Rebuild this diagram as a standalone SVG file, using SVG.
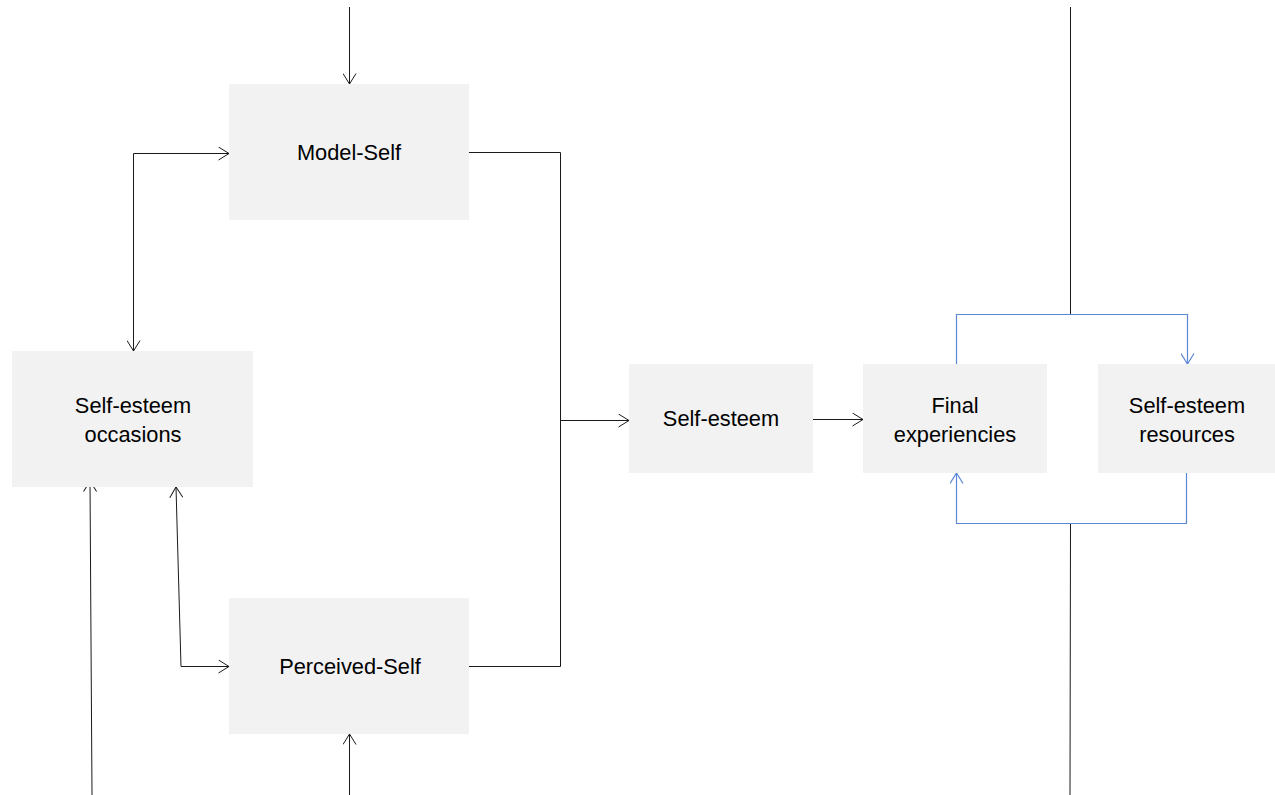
<svg xmlns="http://www.w3.org/2000/svg" width="1275" height="795" viewBox="0 0 1275 795">
<style>
.box{fill:#f2f2f2}
.t{font-family:"Liberation Sans",Arial,sans-serif;font-size:21.8px;fill:#000;text-anchor:middle}
.k{fill:none;stroke:#1a1a1a;stroke-width:1}
.b{fill:none;stroke:#5b87d6;stroke-width:1.2}
</style>
<defs>
<marker id="ak" viewBox="0 0 12 14" refX="11" refY="7" markerWidth="12" markerHeight="14" markerUnits="userSpaceOnUse" orient="auto-start-reverse">
<path d="M0.5,0.5 L11,7 L0.5,13.5" fill="none" stroke="#1a1a1a" stroke-width="1"/>
</marker>
<marker id="ab" viewBox="0 0 12 14" refX="11" refY="7" markerWidth="12" markerHeight="14" markerUnits="userSpaceOnUse" orient="auto-start-reverse">
<path d="M0.5,0.5 L11,7 L0.5,13.5" fill="none" stroke="#5b87d6" stroke-width="1.2"/>
</marker>
</defs>
<g id="connectors">
<line class="k" x1="349.5" y1="7" x2="349.5" y2="84" marker-end="url(#ak)"/>
<polyline class="k" points="229,153.5 133.5,153.5 133.5,351" marker-start="url(#ak)" marker-end="url(#ak)"/>
<polyline class="k" points="176,487 181,666.5 229,666.5" marker-start="url(#ak)" marker-end="url(#ak)"/>
<line class="k" x1="92" y1="795" x2="90" y2="481" marker-end="url(#ak)"/>
<line class="k" x1="349.5" y1="795" x2="349.5" y2="734" marker-end="url(#ak)"/>
<polyline class="k" points="469,152.5 560.5,152.5 560.5,666.5 469,666.5"/>
<line class="k" x1="560.5" y1="420.5" x2="629" y2="420.5" marker-end="url(#ak)"/>
<line class="k" x1="813" y1="419.5" x2="863" y2="419.5" marker-end="url(#ak)"/>
<line class="k" x1="1070.5" y1="7" x2="1070.5" y2="314"/>
<line class="k" x1="1070.5" y1="523" x2="1070" y2="795"/>
<polyline class="b" points="956.5,364 956.5,314.5 1187.5,314.5 1187.5,364" marker-end="url(#ab)"/>
<polyline class="b" points="1186.5,473 1186.5,523.5 956.5,523.5 956.5,473" marker-end="url(#ab)"/>
</g>
<g id="model-self"><rect class="box" x="229" y="84" width="240" height="136"/><text class="t" x="349" y="160">Model-Self</text></g>
<g id="occasions"><rect class="box" x="12" y="351" width="241" height="136"/><text class="t" x="133" y="413">Self-esteem</text><text class="t" x="133" y="442">occasions</text></g>
<g id="perceived-self"><rect class="box" x="229" y="598" width="240" height="136"/><text class="t" x="350" y="674">Perceived-Self</text></g>
<g id="self-esteem"><rect class="box" x="629" y="364" width="184" height="109"/><text class="t" x="721" y="426">Self-esteem</text></g>
<g id="final"><rect class="box" x="863" y="364" width="184" height="109"/><text class="t" x="955" y="413">Final</text><text class="t" x="955" y="442">experiencies</text></g>
<g id="resources"><rect class="box" x="1098" y="364" width="177" height="109"/><text class="t" x="1187" y="413">Self-esteem</text><text class="t" x="1187" y="442">resources</text></g>
</svg>
